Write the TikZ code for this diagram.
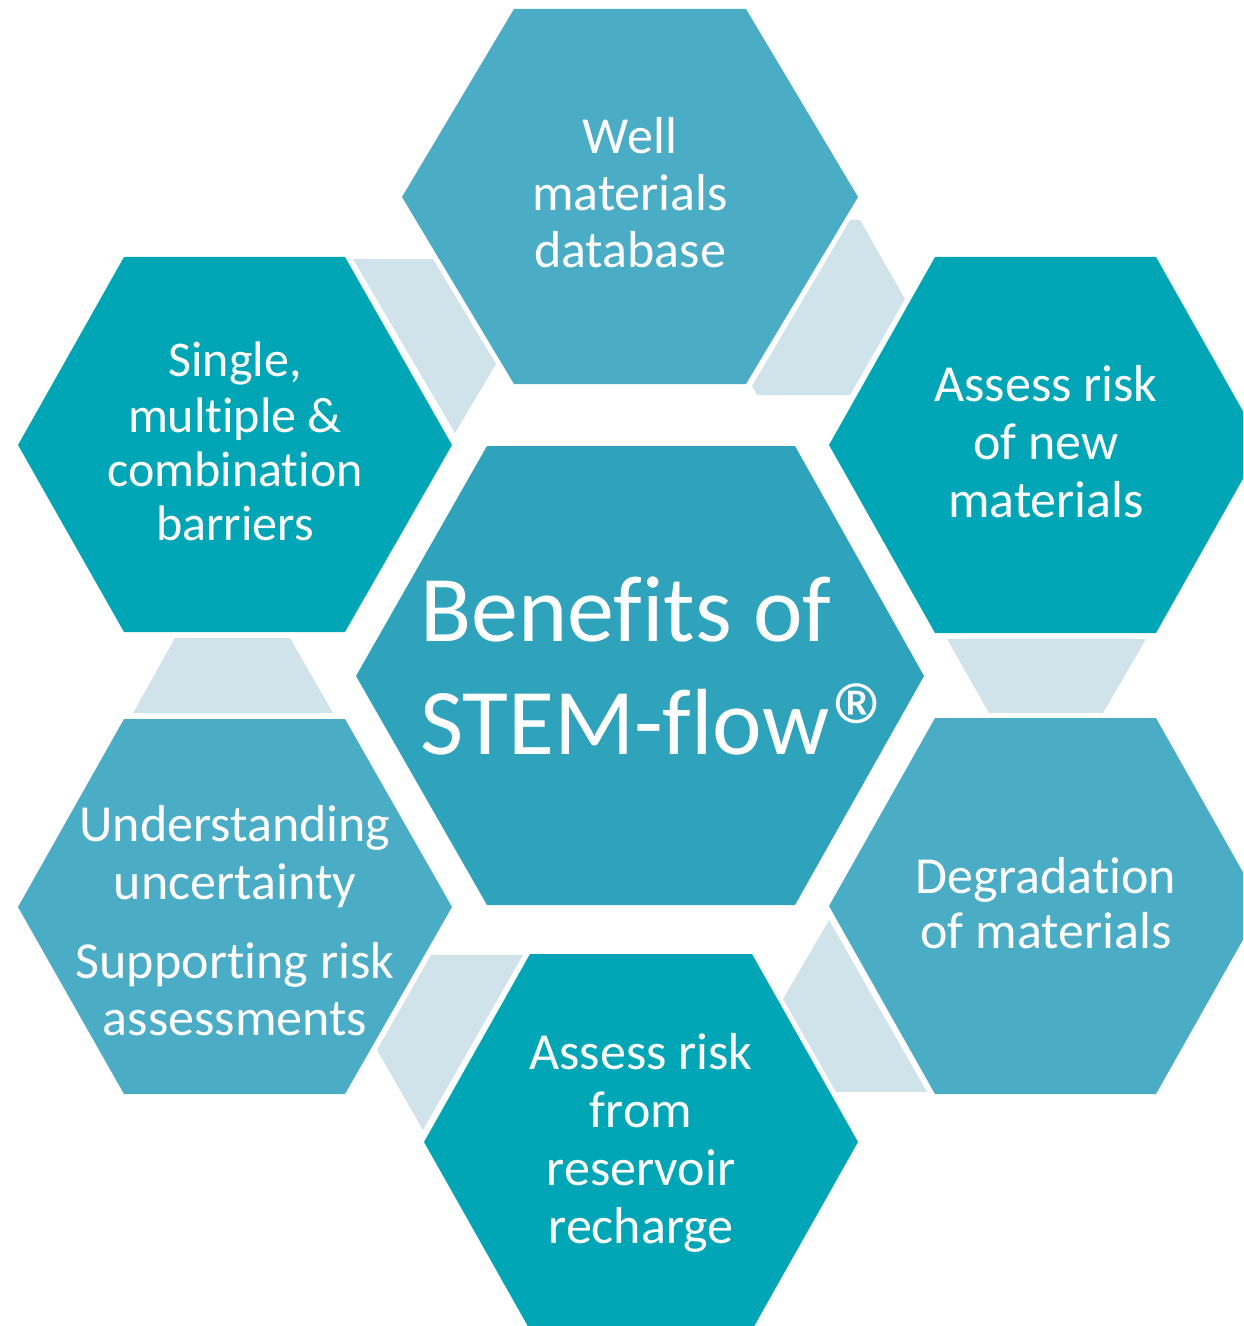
\documentclass[tikz,border=0pt]{standalone}
\usepackage{fontspec}
\newfontfamily\carl[RawFeature={-liga;-clig;-dlig}]{Carlito}
\newcommand{\nolig}{\kern0pt\relax}
\definecolor{hexdark}{HTML}{00A6B6}
\definecolor{hexlight}{HTML}{4BACC6}
\definecolor{hexcenter}{HTML}{2FA2BC}
\definecolor{linkfill}{HTML}{D0E2EA}
\begin{document}
\begin{tikzpicture}[x=0.75pt,y=-0.75pt,
  lbl/.style={text=white, inner sep=0pt, anchor=base, font=\carl\fontsize{39}{39}\selectfont},
  lblsm/.style={lbl, font=\carl\fontsize{37.5}{37.5}\selectfont},
  lblbig/.style={text=white, inner sep=0pt, anchor=base west, font=\carl\fontsize{70.5}{70.5}\selectfont}]
\useasboundingbox (0,0) rectangle (1243,1326);
\clip (0,0) rectangle (1243,1326);
% connectors
\fill[linkfill] (353,259) -- (433,259) -- (496,364) -- (455,433) -- cycle;
\fill[linkfill] (850,220) -- (860,220) -- (905,299) -- (850,395) -- (757,395) -- (752,386) -- cycle;
\fill[linkfill] (947,639) -- (1146,639) -- (1103,713) -- (989,713) -- cycle;
\fill[linkfill] (829,920) -- (783,999) -- (836,1092) -- (927,1092) -- cycle;
\fill[linkfill] (431,955) -- (523,955) -- (423,1130) -- (377,1050) -- cycle;
\fill[linkfill] (175,638) -- (290,638) -- (333,713) -- (133,713) -- cycle;
% hexagons
\fill[hexlight] (514,9) -- (746,9) -- (858,197) -- (746,384) -- (514,384) -- (402,197) -- cycle;
\fill[hexdark] (124,257) -- (345,257) -- (452,445) -- (345,632) -- (124,632) -- (18,445) -- cycle;
\fill[hexdark] (935,257) -- (1156,257) -- (1262,445) -- (1156,633) -- (935,633) -- (829,445) -- cycle;
\fill[hexcenter] (487,446) -- (795,446) -- (924,676) -- (795,905) -- (487,905) -- (356,676) -- cycle;
\fill[hexlight] (935,718) -- (1156,718) -- (1262,906) -- (1156,1094) -- (935,1094) -- (829,906) -- cycle;
\fill[hexlight] (124,719) -- (345,719) -- (452,907) -- (345,1094) -- (124,1094) -- (18,907) -- cycle;
\fill[hexdark] (530,954) -- (752,954) -- (858,1142) -- (752,1330) -- (530,1330) -- (424,1142) -- cycle;
% texts
\node[lbl] (w1) at (630,154) {Well};
\node[lbl] (w2) at (630,211) {materials};
\node[lbl] (w3) at (630,268) {database};
\node[lblsm] (s1) at (235,377) {Single,};
\node[lblsm] (s2) at (235,432) {multiple \&};
\node[lblsm] (s3) at (235,486) {combinat\nolig ion};
\node[lblsm] (s4) at (235,540) {barriers};
\node[lbl] (n1) at (1046,402) {Assess risk};
\node[lbl] (n2) at (1046,459) {of new};
\node[lbl] (n3) at (1046,517) {materials};
\node[lbl] (d1) at (1046,893) {Degradat\nolig ion};
\node[lbl] (d2) at (1046,948) {of materials};
\node[lbl] (r1) at (641,1069) {Assess risk};
\node[lbl] (r2) at (641,1127) {from};
\node[lbl] (r3) at (641,1185) {reservoir};
\node[lbl] (r4) at (641,1243) {recharge};
\node[lbl] (u1) at (235,841) {Understanding};
\node[lbl] (u2) at (235,899) {uncertainty};
\node[lbl] (u3) at (235,978) {Support\nolig ing risk};
\node[lbl] (u4) at (235,1035) {assessments};
\node[lblbig] (c1) at (420,641) {Benef\nolig its of};
\node[lblbig] (c2) at (420,754) {STEM-f\nolig low\kern2pt\raisebox{-15pt}{\scalebox{1.4}{®}}};
\end{tikzpicture}
\end{document}
